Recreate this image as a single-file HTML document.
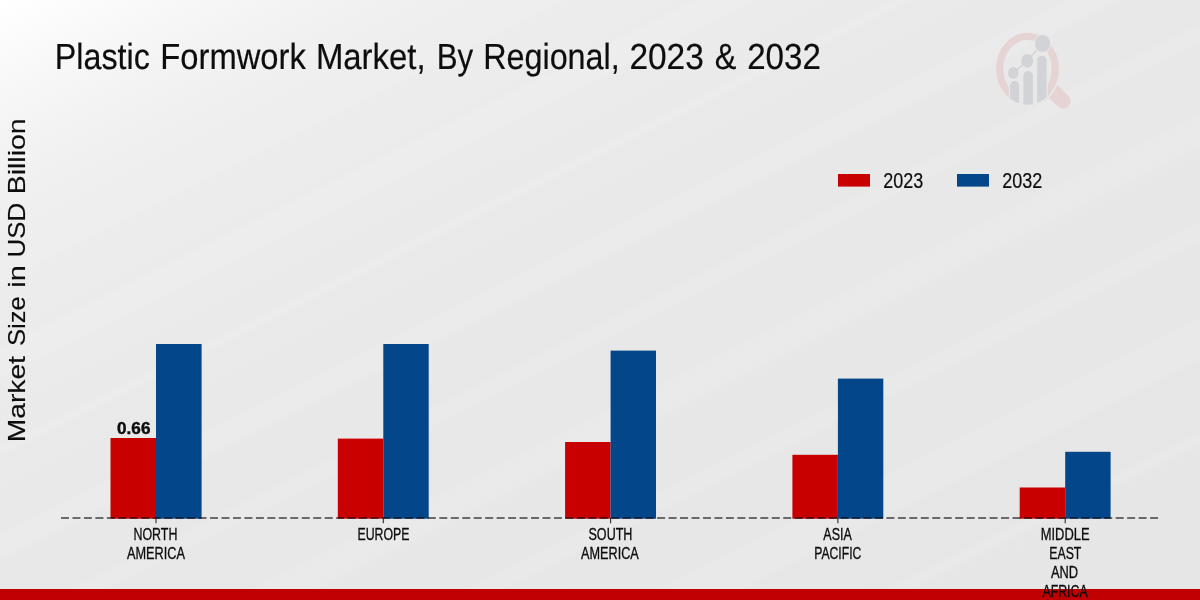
<!DOCTYPE html>
<html>
<head>
<meta charset="utf-8">
<title>Plastic Formwork Market, By Regional, 2023 &amp; 2032</title>
<style>
html,body{margin:0;padding:0;width:1200px;height:600px;overflow:hidden;background:#e8e8e8;}
svg{display:block;position:absolute;left:0;top:0;will-change:transform;}
text{font-family:"Liberation Sans",sans-serif;fill:#0d0d0d;}
</style>
</head>
<body>
<svg width="1200" height="600" viewBox="0 0 1200 600">
<defs>
<linearGradient id="bg" gradientUnits="objectBoundingBox" x1="0" y1="0" x2="1" y2="1">
<stop offset="0" stop-color="#ffffff"/>
<stop offset="0.042" stop-color="#fbfbfb"/>
<stop offset="0.083" stop-color="#f7f7f7"/>
<stop offset="0.125" stop-color="#f3f3f3"/>
<stop offset="0.167" stop-color="#f0f0f0"/>
<stop offset="0.208" stop-color="#eeeeee"/>
<stop offset="0.25" stop-color="#ececec"/>
<stop offset="0.5" stop-color="#e8e8e8"/>
<stop offset="1" stop-color="#e6e6e6"/>
</linearGradient>
<clipPath id="lens"><ellipse cx="1027.5" cy="68.7" rx="31.4" ry="36"/></clipPath>
<mask id="rm" maskUnits="userSpaceOnUse" x="980" y="20" width="110" height="100"><rect x="980" y="20" width="110" height="100" fill="#fff"/><rect x="1008.9" y="68" width="38.8" height="45" fill="#000"/></mask>
<mask id="hm" maskUnits="userSpaceOnUse" x="980" y="20" width="110" height="100"><rect x="980" y="20" width="110" height="100" fill="#fff"/><ellipse cx="1027.5" cy="68.7" rx="33.2" ry="37.9" fill="#000"/></mask>
</defs>
<rect x="0" y="0" width="1200" height="600" fill="#e8e8e8"/>
<rect x="0" y="0" width="1200" height="600" fill="url(#bg)"/>
<g fill="#ffffff" fill-opacity="0.1">
<polygon points="0,264 1200,-336 1200,-318 0,282"/>
<polygon points="0,348 1200,-252 1200,-222 0,378"/>
<polygon points="0,447 1200,-153 1200,-144 0,456"/>
<polygon points="0,534 1200,-66 1200,-39 0,561"/>
<polygon points="0,624 1200,24 1200,42 0,642"/>
<polygon points="0,714 1200,114 1200,147 0,747"/>
<polygon points="0,822 1200,222 1200,240 0,840"/>
<polygon points="0,918 1200,318 1200,360 0,960"/>
<polygon points="0,1032 1200,432 1200,444 0,1044"/>
</g>

<!-- logo -->
<g id="logo">
<g mask="url(#hm)"><line x1="1046" y1="84.3" x2="1063.2" y2="101.2" stroke="#e6d4d5" stroke-width="15" stroke-linecap="round"/></g>
<g mask="url(#rm)"><ellipse cx="1027.5" cy="68.7" rx="27.8" ry="32.4" fill="none" stroke="#e6d4d5" stroke-width="7.2"/></g>
<g clip-path="url(#lens)" fill="#d2d3d7">
<rect x="1010" y="80.8" width="9.1" height="40" rx="4.55"/>
<rect x="1023.4" y="71" width="9.5" height="50" rx="4.75"/>
<rect x="1037.2" y="55.8" width="9.4" height="60" rx="4.7"/>
</g>
<polyline points="1013.3,72.9 1027.2,60.9 1042.6,43.4" fill="none" stroke="#d2d3d7" stroke-width="1.4"/>
<ellipse cx="1013.3" cy="72.95" rx="5.2" ry="5.95" fill="#d2d3d7"/>
<ellipse cx="1027.2" cy="60.9" rx="5.9" ry="6.8" fill="#d2d3d7"/>
<ellipse cx="1042.6" cy="43.4" rx="8.6" ry="9.6" fill="#e9e9e9"/>
<ellipse cx="1042.6" cy="43.4" rx="7.7" ry="8.7" fill="#d2d3d7"/>
</g>

<!-- legend -->
<rect x="838" y="174" width="32" height="12.6" fill="#c80000"/>
<rect x="957" y="174" width="32" height="12.6" fill="#03468a"/>

<!-- bars -->
<g id="bars">
<rect x="110.5" y="438" width="45.5" height="80.7" fill="#c80000"/>
<rect x="156" y="344" width="45.6" height="174.7" fill="#03468a"/>
<rect x="337.8" y="438.6" width="45.5" height="80.1" fill="#c80000"/>
<rect x="383.3" y="344" width="45.4" height="174.7" fill="#03468a"/>
<rect x="565.1" y="442" width="45.5" height="76.7" fill="#c80000"/>
<rect x="610.6" y="350.6" width="45.4" height="168.1" fill="#03468a"/>
<rect x="792.4" y="454.8" width="45.5" height="63.9" fill="#c80000"/>
<rect x="837.9" y="378.6" width="45.4" height="140.1" fill="#03468a"/>
<rect x="1019.7" y="487.5" width="45.5" height="31.2" fill="#c80000"/>
<rect x="1065.2" y="451.8" width="45.4" height="66.9" fill="#03468a"/>
</g>

<!-- baseline -->
<line x1="61" y1="518" x2="1158" y2="518" stroke="#000" stroke-opacity="0.72" stroke-width="1.6" stroke-dasharray="8 3.464"/>
<g stroke="#2a2a2a" stroke-width="1.1">
<line x1="156" y1="518" x2="156" y2="523.2"/>
<line x1="383.3" y1="518" x2="383.3" y2="523.2"/>
<line x1="610.6" y1="518" x2="610.6" y2="523.2"/>
<line x1="837.9" y1="518" x2="837.9" y2="523.2"/>
<line x1="1065.2" y1="518" x2="1065.2" y2="523.2"/>
</g>

<!-- bottom red bar -->
<rect x="0" y="589" width="1200" height="11" fill="#c00000"/>
<!-- texts: title words, legend, value label, x labels, y label -->
<text x="54.80" y="69.0" font-size="36.3" stroke="#0d0d0d" stroke-width="0.2" transform="rotate(0.03 54.80 69.0)" textLength="95.01" lengthAdjust="spacingAndGlyphs">Plastic</text>
<text x="160.30" y="69.0" font-size="36.3" stroke="#0d0d0d" stroke-width="0.2" transform="rotate(0.03 160.30 69.0)" textLength="145.48" lengthAdjust="spacingAndGlyphs">Formwork</text>
<text x="315.90" y="69.0" font-size="36.3" stroke="#0d0d0d" stroke-width="0.2" transform="rotate(0.03 315.90 69.0)" textLength="109.66" lengthAdjust="spacingAndGlyphs">Market,</text>
<text x="436.65" y="69.0" font-size="36.3" stroke="#0d0d0d" stroke-width="0.2" transform="rotate(0.03 436.65 69.0)" textLength="36.42" lengthAdjust="spacingAndGlyphs">By</text>
<text x="483.20" y="69.0" font-size="36.3" stroke="#0d0d0d" stroke-width="0.2" transform="rotate(0.03 483.20 69.0)" textLength="136.52" lengthAdjust="spacingAndGlyphs">Regional,</text>
<text x="629.40" y="69.0" font-size="36.3" stroke="#0d0d0d" stroke-width="0.2" transform="rotate(0.03 629.40 69.0)" textLength="74.42" lengthAdjust="spacingAndGlyphs">2023</text>
<text x="714.75" y="69.0" font-size="36.3" stroke="#0d0d0d" stroke-width="0.2" transform="rotate(0.03 714.75 69.0)" textLength="21.62" lengthAdjust="spacingAndGlyphs">&amp;</text>
<text x="747.20" y="69.0" font-size="36.3" stroke="#0d0d0d" stroke-width="0.2" transform="rotate(0.03 747.20 69.0)" textLength="73.62" lengthAdjust="spacingAndGlyphs">2032</text>
<text x="883.25" y="188" font-size="22" stroke="#0d0d0d" stroke-width="0.2" textLength="40.00" lengthAdjust="spacingAndGlyphs">2023</text>
<text x="1002.25" y="188" font-size="22" stroke="#0d0d0d" stroke-width="0.2" textLength="40.00" lengthAdjust="spacingAndGlyphs">2032</text>
<text x="117.05" y="434.4" font-size="16.7" font-weight="bold" stroke="#0d0d0d" stroke-width="0.4" textLength="33.40" lengthAdjust="spacingAndGlyphs">0.66</text>
<text x="133.50" y="539.8" font-size="15.6" stroke="#0d0d0d" stroke-width="0.3" textLength="43.90" lengthAdjust="spacingAndGlyphs">NORTH</text>
<text x="127.00" y="559" font-size="15.6" stroke="#0d0d0d" stroke-width="0.3" textLength="58.00" lengthAdjust="spacingAndGlyphs">AMERICA</text>
<text x="357.50" y="539.9" font-size="15.6" stroke="#0d0d0d" stroke-width="0.3" textLength="52.00" lengthAdjust="spacingAndGlyphs">EUROPE</text>
<text x="588.50" y="539.8" font-size="15.6" stroke="#0d0d0d" stroke-width="0.3" textLength="43.92" lengthAdjust="spacingAndGlyphs">SOUTH</text>
<text x="581.00" y="559" font-size="15.6" stroke="#0d0d0d" stroke-width="0.3" textLength="57.80" lengthAdjust="spacingAndGlyphs">AMERICA</text>
<text x="823.35" y="539.8" font-size="15.6" stroke="#0d0d0d" stroke-width="0.3" textLength="28.46" lengthAdjust="spacingAndGlyphs">ASIA</text>
<text x="814.15" y="559" font-size="15.6" stroke="#0d0d0d" stroke-width="0.3" textLength="47.28" lengthAdjust="spacingAndGlyphs">PACIFIC</text>
<text x="1040.75" y="539.8" font-size="15.6" stroke="#0d0d0d" stroke-width="0.3" textLength="48.83" lengthAdjust="spacingAndGlyphs">MIDDLE</text>
<text x="1049.35" y="558.6" font-size="15.6" stroke="#0d0d0d" stroke-width="0.3" textLength="32.01" lengthAdjust="spacingAndGlyphs">EAST</text>
<text x="1050.90" y="578" font-size="15.6" stroke="#0d0d0d" stroke-width="0.3" textLength="27.19" lengthAdjust="spacingAndGlyphs">AND</text>
<text x="1042.40" y="597.4" font-size="15.6" stroke="#0d0d0d" stroke-width="0.3" textLength="45.30" lengthAdjust="spacingAndGlyphs">AFRICA</text>
<text transform="translate(25.3,442.25) rotate(-90)" font-size="24" stroke="#0d0d0d" stroke-width="0.15" textLength="86.19" lengthAdjust="spacingAndGlyphs">Market</text>
<text transform="translate(25.3,346.00) rotate(-90)" font-size="24" stroke="#0d0d0d" stroke-width="0.15" textLength="49.85" lengthAdjust="spacingAndGlyphs">Size</text>
<text transform="translate(25.3,287.75) rotate(-90)" font-size="24" stroke="#0d0d0d" stroke-width="0.15" textLength="22.44" lengthAdjust="spacingAndGlyphs">in</text>
<text transform="translate(25.3,257.40) rotate(-90)" font-size="24" stroke="#0d0d0d" stroke-width="0.15" textLength="54.53" lengthAdjust="spacingAndGlyphs">USD</text>
<text transform="translate(25.3,194.25) rotate(-90)" font-size="24" stroke="#0d0d0d" stroke-width="0.15" textLength="75.91" lengthAdjust="spacingAndGlyphs">Billion</text>

</svg>
</body>
</html>
